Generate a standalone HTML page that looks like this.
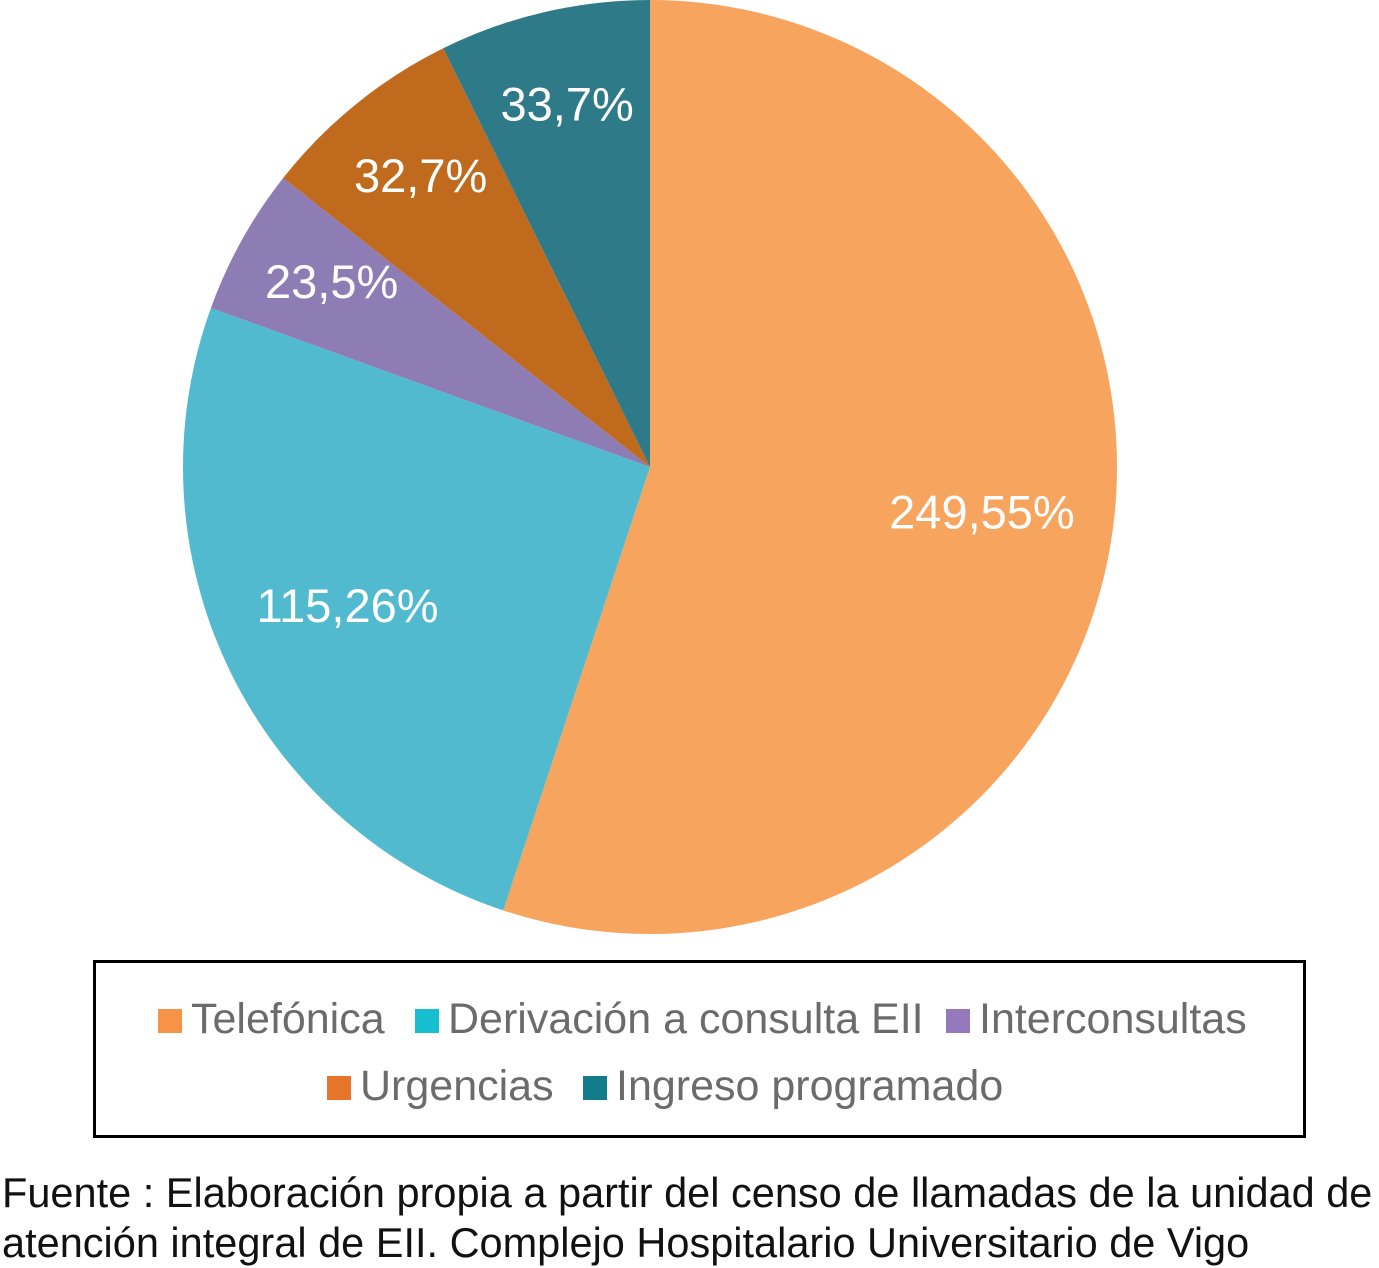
<!DOCTYPE html>
<html><head><meta charset="utf-8"><style>
html,body{margin:0;padding:0;background:#fff;width:1379px;height:1265px;overflow:hidden;font-family:"Liberation Sans",Arial,sans-serif}
.leg{position:absolute;font-size:43px;color:#6b6b6b;white-space:nowrap;line-height:43px}
.sw{display:inline-block;width:24px;height:24px;margin-right:9px;vertical-align:0px}
</style></head><body>
<svg id="chart" width="1379" height="950" style="position:absolute;left:0;top:0"></svg>
<div style="position:absolute;left:93px;top:960px;width:1207px;height:172px;border:3px solid #000"></div>
<div class="leg" style="left:158px;top:998px"><span class="sw" style="background:#F69347"></span>Telefónica</div>
<div class="leg" style="left:415px;top:998px"><span class="sw" style="background:#17BECF"></span>Derivación a consulta EII</div>
<div class="leg" style="left:946px;top:998px"><span class="sw" style="background:#9479BC"></span>Interconsultas</div>
<div class="leg" style="left:327px;top:1065px"><span class="sw" style="background:#E8762A"></span>Urgencias</div>
<div class="leg" style="left:583px;top:1065px"><span class="sw" style="background:#137C8A"></span>Ingreso programado</div>
<div style="position:absolute;left:2px;top:1168px;font-size:41.5px;line-height:50px;color:#111;white-space:nowrap">Fuente : Elaboración propia a partir del censo de llamadas de la unidad de<br>atención integral de EII. Complejo Hospitalario Universitario de Vigo</div>
<script>
const categories=["Telefónica","Derivación a consulta EII","Interconsultas","Urgencias","Ingreso programado"];
const values=[249,115,23,32,33];
const labels=["249,55%","115,26%","23,5%","32,7%","33,7%"];
const colors=["#F7A45F","#52BACF","#8E7CB5","#C06A1E","#2E7A88"];
const svg=document.getElementById('chart');
const NS="http://www.w3.org/2000/svg";
const cx=650,cy=467,r=467;
const total=values.reduce((a,b)=>a+b,0);
function pt(a,rr){return [cx+rr*Math.sin(a),cy-rr*Math.cos(a)];}
let a0=0;
values.forEach((v,i)=>{
  const a1=a0+v/total*2*Math.PI;
  const p0=pt(a0,r),p1=pt(a1,r);
  const large=(a1-a0)>Math.PI?1:0;
  const path=document.createElementNS(NS,'path');
  path.setAttribute('d',`M${cx},${cy}L${p0[0]},${p0[1]}A${r},${r} 0 ${large} 1 ${p1[0]},${p1[1]}Z`);
  path.setAttribute('fill',colors[i]);
  
  
  svg.appendChild(path);
  a0=a1;
});
a0=0;
values.forEach((v,i)=>{
  const a1=a0+v/total*2*Math.PI;
  const am=(a0+a1)/2;
  const f=v/total>0.1?0.72:0.78;
  const p=pt(am,r*f);
  const t=document.createElementNS(NS,'text');
  t.setAttribute('x',p[0]);t.setAttribute('y',p[1]+8);
  t.setAttribute('text-anchor','middle');
  t.setAttribute('fill','#fff');
  t.setAttribute('font-size','47');
  t.setAttribute('font-family','Liberation Sans, Arial, sans-serif');
  t.textContent=labels[i];
  
  
  svg.appendChild(t);
  a0=a1;
});
</script>
</body></html>
